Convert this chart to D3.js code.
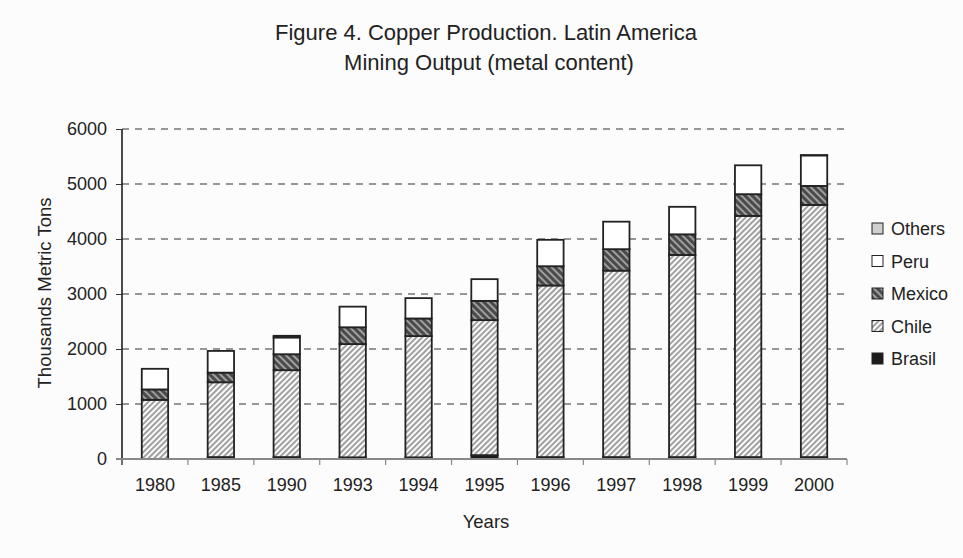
<!DOCTYPE html>
<html>
<head>
<meta charset="utf-8">
<script src="https://cdn.jsdelivr.net/npm/d3@7"></script>
<style>
  body { margin: 0; background: #fcfcfc; }
  text { font-family: "Liberation Sans", Arial, sans-serif; fill: #222; }
</style>
</head>
<body>
<svg id="chart" width="963" height="558"></svg>
<script>
// values, thousand metric tons
const years = ["1980", "1985", "1990", "1993", "1994", "1995", "1996", "1997", "1998", "1999", "2000"];
const brasil = [0, 35, 35, 30, 30, 70, 35, 35, 35, 35, 35];
const chile  = [1075, 1360, 1580, 2060, 2205, 2455, 3120, 3390, 3675, 4385, 4585];
const mexico = [190, 175, 290, 305, 320, 350, 350, 390, 375, 395, 345];
const peru   = [375, 395, 305, 375, 370, 395, 480, 500, 500, 525, 555];
const others = [0, 0, 30, 0, 0, 0, 0, 0, 0, 0, 5];
const yTicks = [0, 1000, 2000, 3000, 4000, 5000, 6000];
const seriesNames = ["Brasil", "Chile", "Mexico", "Peru", "Others"];

const svg = d3.select("#chart");
const W = 963, H = 558;
const margin = {left: 122, right: 116, top: 129, bottom: 99};

svg.append("rect").attr("width", W).attr("height", H).attr("fill", "#fcfcfc");

// patterns
const defs = svg.append("defs");
let pc = defs.append("pattern").attr("id", "hatchChile")
  .attr("patternUnits", "userSpaceOnUse").attr("width", 4).attr("height", 4)
  .attr("patternTransform", "rotate(45)");
pc.append("rect").attr("width", 4).attr("height", 4).attr("fill", "#fafafa");
pc.append("line").attr("x1", 1).attr("y1", 0).attr("x2", 1).attr("y2", 4)
  .attr("stroke", "#8a8a8a").attr("stroke-width", 1.6);

let pm = defs.append("pattern").attr("id", "hatchMexico")
  .attr("patternUnits", "userSpaceOnUse").attr("width", 5).attr("height", 5)
  .attr("patternTransform", "rotate(-45)");
pm.append("rect").attr("width", 5).attr("height", 5).attr("fill", "#4a4a4a");
pm.append("line").attr("x1", 1).attr("y1", 0).attr("x2", 1).attr("y2", 5)
  .attr("stroke", "#a8a8a8").attr("stroke-width", 1.8);

const fills = {
  Brasil: "#1c1c1c",
  Chile: "url(#hatchChile)",
  Mexico: "url(#hatchMexico)",
  Peru: "#ffffff",
  Others: "#cfcfcf"
};

const table = years.map((y, i) => ({
  year: y, Brasil: brasil[i], Chile: chile[i], Mexico: mexico[i], Peru: peru[i], Others: others[i]
}));

const x = d3.scaleBand().domain(years)
  .range([margin.left, W - margin.right]).paddingInner(0.6).paddingOuter(0.3);
const y = d3.scaleLinear().domain([0, 6000]).range([H - margin.bottom, margin.top]);

// grid lines
svg.append("g").selectAll("line").data(yTicks.filter(d => d > 0)).enter().append("line")
  .attr("x1", margin.left).attr("x2", W - margin.right)
  .attr("y1", d => y(d)).attr("y2", d => y(d))
  .attr("stroke", "#333").attr("stroke-width", 1.2)
  .attr("stroke-dasharray", "7,6");

// bars
const stack = d3.stack().keys(seriesNames)(table);
svg.append("g").selectAll("g").data(stack).enter().append("g")
  .attr("fill", d => fills[d.key])
  .selectAll("rect").data(d => d.filter(p => p[1] - p[0] > 0)).enter().append("rect")
  .attr("x", d => x(d.data.year))
  .attr("width", x.bandwidth())
  .attr("y", d => y(d[1]))
  .attr("height", d => y(d[0]) - y(d[1]))
  .attr("stroke", "#222").attr("stroke-width", 1.8);

// y axis
const yAxis = svg.append("g").attr("transform", `translate(${margin.left},0)`)
  .call(d3.axisLeft(y).tickValues(yTicks).tickSize(6).tickPadding(9).tickFormat(d3.format("d")));
yAxis.select(".domain").attr("stroke", "#111").attr("stroke-width", 1.5)
  .attr("d", `M0,${y(0) + 6}V${y(6000)}`);
yAxis.selectAll(".tick line").attr("stroke", "#333");
yAxis.selectAll(".tick text").attr("font-size", 18).attr("fill", "#222");

// x axis
const xAxis = svg.append("g").attr("transform", `translate(0,${y(0)})`)
  .call(d3.axisBottom(x).tickSize(0).tickPadding(19));
xAxis.select(".domain").attr("stroke", "#888").attr("stroke-width", 2)
  .attr("d", `M${margin.left - 6},0H${W - margin.right}`);
xAxis.selectAll(".tick text").attr("font-size", 18).attr("fill", "#222");
// separators between categories
const bounds = d3.range(years.length + 1).map(i => margin.left + i * (W - margin.left - margin.right) / years.length);
xAxis.append("g").selectAll("line").data(bounds).enter().append("line")
  .attr("x1", d => d).attr("x2", d => d).attr("y1", 0).attr("y2", 6)
  .attr("stroke", "#888").attr("stroke-width", 1.2);

// titles
svg.append("text").attr("x", 486).attr("y", 40).attr("text-anchor", "middle")
  .attr("font-size", 22).text("Figure 4. Copper Production. Latin America");
svg.append("text").attr("x", 489).attr("y", 70).attr("text-anchor", "middle")
  .attr("font-size", 22).text("Mining Output (metal content)");
svg.append("text").attr("x", 486).attr("y", 528).attr("text-anchor", "middle")
  .attr("font-size", 18.5).text("Years");
svg.append("text").attr("transform", "translate(51,293) rotate(-90)").attr("text-anchor", "middle")
  .attr("font-size", 18.5).text("Thousands Metric Tons");

// legend
const legendOrder = ["Others", "Peru", "Mexico", "Chile", "Brasil"];
const lg = svg.append("g").selectAll("g").data(legendOrder).enter().append("g")
  .attr("transform", (d, i) => `translate(872,${223 + i * 32.5})`);
lg.append("rect").attr("width", 11).attr("height", 11)
  .attr("fill", d => fills[d]).attr("stroke", "#222").attr("stroke-width", 1);
lg.append("text").attr("x", 19).attr("y", 12).attr("font-size", 18).text(d => d);
</script>
</body>
</html>
